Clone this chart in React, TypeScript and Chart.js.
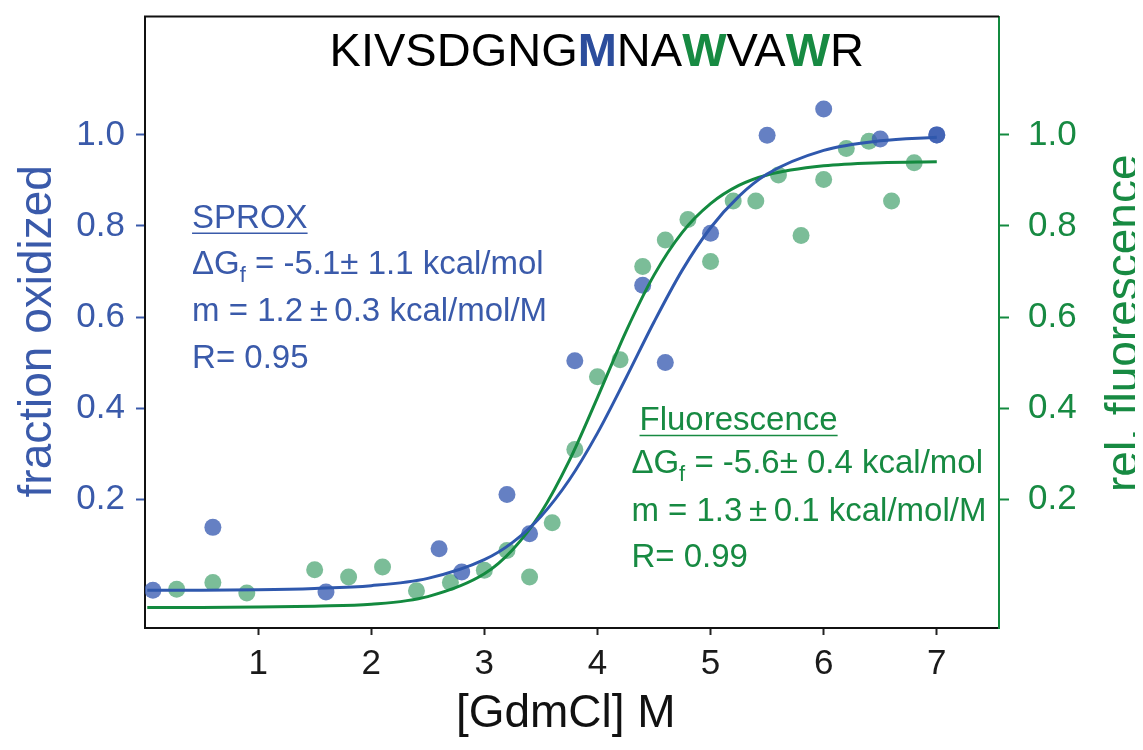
import React, { useEffect, useRef } from "react";
import { Chart, registerables } from "chart.js";

Chart.register(...registerables);

// ---- data ----
const xBlue = [0.07, 0.6, 1.6, 2.6, 2.8, 3.2, 3.4, 3.8, 4.4, 4.6, 5.0, 5.5, 6.0, 6.5, 7.0, 7.0];
const yBlue = [0.0, 0.138, -0.004, 0.091, 0.04, 0.21, 0.124, 0.504, 0.67, 0.5, 0.784, 0.999, 1.057, 0.991, 1.0, 1.0];

const xGreen = [0.28, 0.6, 0.9, 1.5, 1.8, 2.1, 2.4, 2.7, 3.0, 3.2, 3.4, 3.6, 3.8, 4.0, 4.2, 4.4, 4.6, 4.8, 5.0, 5.2, 5.4, 5.6, 5.8, 6.0, 6.2, 6.4, 6.6, 6.8];
const yGreen = [0.002, 0.017, -0.006, 0.045, 0.029, 0.051, -0.001, 0.017, 0.044, 0.087, 0.029, 0.148, 0.309, 0.469, 0.506, 0.711, 0.769, 0.814, 0.722, 0.855, 0.855, 0.912, 0.779, 0.902, 0.97, 0.986, 0.855, 0.939];

const xFit = [0.02, 0.5, 1, 1.5, 2, 2.5, 3, 3.25, 3.5, 3.75, 4, 4.25, 4.5, 4.75, 5, 5.25, 5.5, 6, 6.5, 7];
const yFitBlue = [0.0, 0.0, 0.001, 0.004, 0.01, 0.026, 0.067, 0.105, 0.162, 0.242, 0.345, 0.465, 0.589, 0.703, 0.796, 0.865, 0.914, 0.966, 0.987, 0.995];
const yFitGreen = [-0.038, -0.038, -0.037, -0.035, -0.031, -0.014, 0.036, 0.089, 0.17, 0.284, 0.423, 0.567, 0.692, 0.786, 0.849, 0.889, 0.912, 0.932, 0.939, 0.941];

const xTicks = [1, 2, 3, 4, 5, 6, 7];
const yTicks = [0.2, 0.4, 0.6, 0.8, 1.0];

const titleParts = [
  { text: "KIVSDGNG", color: "#000000", bold: false },
  { text: "M", color: "#2c4d9c", bold: true },
  { text: "NA", color: "#000000", bold: false },
  { text: "W", color: "#178a42", bold: true },
  { text: "VA", color: "#000000", bold: false },
  { text: "W", color: "#178a42", bold: true },
  { text: "R", color: "#000000", bold: false },
];

const sproxLines = ["SPROX", "-5.1\u00b1 1.1 kcal/mol", "m = 1.2\u2009\u00b1\u20090.3 kcal/mol/M", "R= 0.95"];
const fluorLines = ["Fluorescence", "-5.6\u00b1 0.4 kcal/mol", "m = 1.3\u2009\u00b1\u20090.1 kcal/mol/M", "R= 0.99"];

const BLUE_TXT = "#3a5aaa";
const GREEN = "#138a3f";
const GREEN_TXT = "#178a42";
const FONT = "'Liberation Sans', Arial, Helvetica, sans-serif";

const pts = (xs: number[], ys: number[]) => xs.map((x, i) => ({ x, y: ys[i] }));

const decorPlugin = {
  id: "decor",
  afterDraw(chart: any) {
    const { ctx, chartArea, scales } = chart;
    const xs = scales.x;
    const ys = scales.y;
    ctx.save();
    // top border
    ctx.strokeStyle = "#111";
    ctx.lineWidth = 2;
    ctx.beginPath();
    ctx.moveTo(chartArea.left - 1, chartArea.top);
    ctx.lineTo(chartArea.right, chartArea.top);
    ctx.stroke();

    // title
    let tx = xs.getPixelForValue(1.632);
    const ty = ys.getPixelForValue(1.151);
    ctx.textBaseline = "alphabetic";
    ctx.textAlign = "left";
    for (const p of titleParts) {
      ctx.font = `${p.bold ? "bold " : ""}47px ${FONT}`;
      ctx.fillStyle = p.color;
      ctx.fillText(p.text, tx, ty);
      tx += ctx.measureText(p.text).width;
    }

    // blocks
    const drawBlock = (lines: string[], color: string, x0: number, xHead: number, yBase: number[]) => {
      ctx.fillStyle = color;
      ctx.strokeStyle = color;
      ctx.font = `33px ${FONT}`;
      const hx = xs.getPixelForValue(xHead);
      const lx = xs.getPixelForValue(x0);
      const y0 = ys.getPixelForValue(yBase[0]);
      ctx.fillText(lines[0], hx, y0);
      const w = ctx.measureText(lines[0]).width;
      ctx.lineWidth = 1.5;
      ctx.beginPath();
      ctx.moveTo(hx, y0 + 5);
      ctx.lineTo(hx + w, y0 + 5);
      ctx.stroke();
      // delta G line
      const y1 = ys.getPixelForValue(yBase[1]);
      let cx = lx;
      ctx.fillText("\u0394G", cx, y1);
      cx += ctx.measureText("\u0394G").width;
      ctx.font = `22px ${FONT}`;
      ctx.fillText("f", cx, y1 + 8);
      cx += ctx.measureText("f").width;
      ctx.font = `33px ${FONT}`;
      ctx.fillText(" = " + lines[1], cx, y1);
      ctx.fillText(lines[2], lx, ys.getPixelForValue(yBase[2]));
      ctx.fillText(lines[3], lx, ys.getPixelForValue(yBase[3]));
    };
    drawBlock(sproxLines, BLUE_TXT, 0.416, 0.416, [0.795, 0.694, 0.592, 0.489]);
    drawBlock(fluorLines, GREEN_TXT, 4.3, 4.372, [0.351, 0.258, 0.151, 0.05]);

    // axis titles
    ctx.font = `46px ${FONT}`;
    ctx.textAlign = "center";
    ctx.textBaseline = "alphabetic";
    ctx.fillStyle = BLUE_TXT;
    ctx.save();
    ctx.translate(chartArea.left - 94, (chartArea.top + chartArea.bottom) / 2 + 9);
    ctx.rotate(-Math.PI / 2);
    ctx.fillText("fraction oxidized", 0, 0);
    ctx.restore();

    ctx.fillStyle = GREEN_TXT;
    ctx.save();
    ctx.translate(chartArea.right + 139, (chartArea.top + chartArea.bottom) / 2 + 1);
    ctx.rotate(-Math.PI / 2);
    ctx.fillText("rel. fluorescence", 0, 0);
    ctx.restore();

    ctx.fillStyle = "#111";
    ctx.font = `46px ${FONT}`;
    ctx.fillText("[GdmCl] M", xs.getPixelForValue(3.72), chartArea.bottom + 99);
    ctx.restore();
  },
};

const noPad = (s: any) => {
  s.paddingTop = 0;
  s.paddingBottom = 0;
  s.paddingLeft = 0;
  s.paddingRight = 0;
};

export default function App() {
  const ref = useRef<HTMLCanvasElement | null>(null);
  useEffect(() => {
    if (!ref.current) return;
    const chart = new Chart(ref.current, {
      type: "scatter",
      data: {
        datasets: [
          {
            type: "line",
            label: "SPROX fit",
            data: pts(xFit, yFitBlue),
            borderColor: "#2f58ad",
            borderWidth: 3,
            pointRadius: 0,
            cubicInterpolationMode: "monotone",
            yAxisID: "y",
            fill: false,
          },
          {
            type: "line",
            label: "Fluorescence fit",
            data: pts(xFit, yFitGreen),
            borderColor: GREEN,
            borderWidth: 3,
            pointRadius: 0,
            cubicInterpolationMode: "monotone",
            yAxisID: "y2",
            fill: false,
          },
          {
            label: "SPROX",
            data: pts(xBlue, yBlue),
            backgroundColor: "rgba(58, 92, 178, 0.78)",
            borderWidth: 0,
            pointRadius: 8.5,
            yAxisID: "y",
          },
          {
            label: "Fluorescence",
            data: pts(xGreen, yGreen),
            backgroundColor: "rgba(72, 164, 112, 0.72)",
            borderWidth: 0,
            pointRadius: 8.5,
            yAxisID: "y2",
          },
        ],
      },
      options: {
        animation: false,
        responsive: false,
        layout: { padding: { top: 5, left: 0, right: 0, bottom: 0 } },
        plugins: { legend: { display: false }, tooltip: { enabled: false } },
        scales: {
          x: {
            type: "linear",
            min: 0,
            max: 7.55,
            afterBuildTicks: (s: any) => {
              s.ticks = xTicks.map((v) => ({ value: v }));
            },
            afterFit: (s: any) => {
              s.height = 114;
              noPad(s);
            },
            ticks: {
              color: "#1a1a1a",
              font: { family: FONT, size: 35 },
              padding: 8,
              maxRotation: 0,
              callback: (v: any) => String(v),
            },
            grid: { display: true, drawOnChartArea: false, tickLength: 7, tickColor: "#222", tickWidth: 2 },
            border: { display: true, color: "#111", width: 2 },
          },
          y: {
            type: "linear",
            position: "left",
            min: -0.083,
            max: 1.26,
            afterBuildTicks: (s: any) => {
              s.ticks = yTicks.map((v) => ({ value: v }));
            },
            afterFit: (s: any) => {
              s.width = 137;
              noPad(s);
            },
            ticks: {
              color: BLUE_TXT,
              font: { family: FONT, size: 35 },
              padding: 11,
              callback: (v: any) => Number(v).toFixed(1),
            },
            grid: { display: true, drawOnChartArea: false, tickLength: 9, tickColor: BLUE_TXT, tickWidth: 2 },
            border: { display: true, color: "#111", width: 2 },
          },
          y2: {
            type: "linear",
            position: "right",
            min: -0.083,
            max: 1.26,
            afterBuildTicks: (s: any) => {
              s.ticks = yTicks.map((v) => ({ value: v }));
            },
            afterFit: (s: any) => {
              s.width = 136;
              noPad(s);
            },
            ticks: {
              color: GREEN_TXT,
              font: { family: FONT, size: 35 },
              padding: 19,
              callback: (v: any) => Number(v).toFixed(1),
            },
            grid: { display: true, drawOnChartArea: false, tickLength: 10, tickColor: GREEN, tickWidth: 2 },
            border: { display: true, color: GREEN, width: 2 },
          },
        },
      } as any,
      plugins: [decorPlugin],
    });
    return () => chart.destroy();
  }, []);
  return (
    <div style={{ width: 1127, height: 734 }}>
      <canvas ref={ref} width={1127} height={734} style={{ display: "block" }} />
    </div>
  );
}
